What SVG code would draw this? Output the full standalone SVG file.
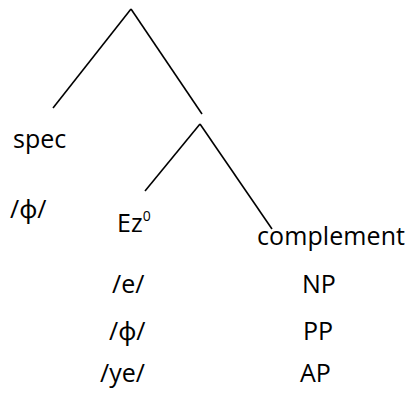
<svg xmlns="http://www.w3.org/2000/svg" width="409" height="405" viewBox="0 0 409 405">
  <style>
    text { font-family: "Open Sans", "Noto Sans", "DejaVu Sans", sans-serif; font-size: 25px; fill: #000; }
    .sup { font-size: 14px; }
    .edge { stroke: #000; stroke-width: 1.6; fill: none; }
  </style>
  <rect width="409" height="405" fill="#fff"/>
  <g id="connectors">
    <line class="edge" x1="131" y1="9" x2="53" y2="108"/>
    <line class="edge" x1="131" y1="9" x2="202" y2="114"/>
    <line class="edge" x1="200" y1="124" x2="145" y2="191"/>
    <line class="edge" x1="200" y1="124" x2="272" y2="229"/>
  </g>
  <g id="spec"><text x="13" y="148">spec</text></g>
  <g id="spec-phi"><text x="10" y="218">/ϕ/</text></g>
  <g id="head"><text x="117" y="232">Ez<tspan class="sup" dy="-11">0</tspan></text></g>
  <g id="complement"><text x="257" y="245" textLength="148" lengthAdjust="spacing">complement</text></g>
  <g id="head-e"><text x="112" y="293">/e/</text></g>
  <g id="comp-np"><text x="302" y="293">NP</text></g>
  <g id="head-phi"><text x="109" y="340">/ϕ/</text></g>
  <g id="comp-pp"><text x="303" y="340">PP</text></g>
  <g id="head-ye"><text x="100" y="382">/ye/</text></g>
  <g id="comp-ap"><text x="300" y="382">AP</text></g>
</svg>
